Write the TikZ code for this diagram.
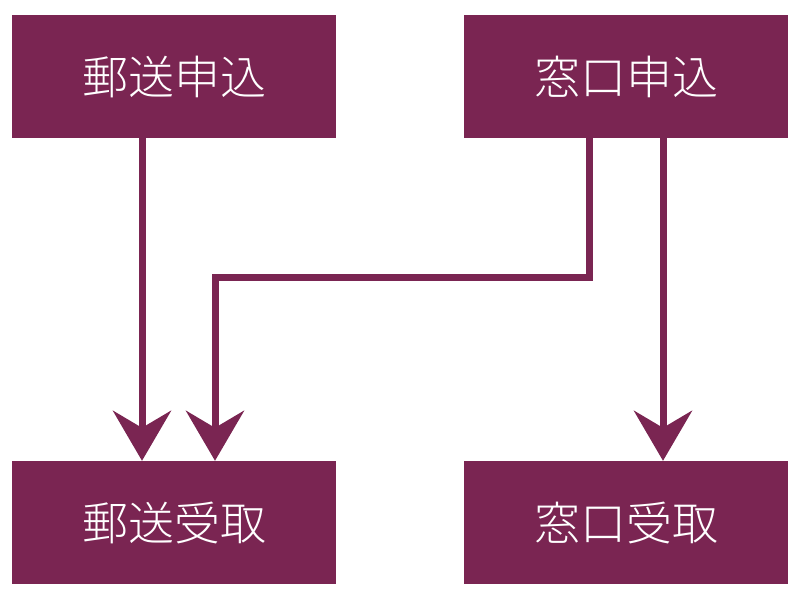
\documentclass[tikz,border=0pt]{standalone}
\usepackage{fontspec}
\newfontfamily\cjk{Noto Sans CJK JP Light}
\usetikzlibrary{arrows.meta}
\definecolor{plum}{HTML}{7A2552}
\begin{document}
\begin{tikzpicture}[x=1pt,y=-1pt,
  box/.style={fill=plum, draw=none, minimum width=324pt, minimum height=123pt, inner sep=0pt, text=white, font=\cjk\fontsize{46}{50}\selectfont},
  conn/.style={draw=plum, line width=7pt, -{Stealth[length=50pt,width=58pt,inset=17pt]}}]
\useasboundingbox (0,0) rectangle (800,600);
\node[box] (a) at (174,76.5) {郵送申込};
\node[box] (b) at (626,76.5) {窓口申込};
\node[box] (c) at (174,522.5) {郵送受取};
\node[box] (d) at (626,522.5) {窓口受取};
\draw[conn] (a.south -| 142,0) -- (c.north -| 142,0);
\draw[conn] (b.south -| 589,0) -- (589,277) -- (215,277) -- (c.north -| 215,0);
\draw[conn] (b.south -| 663,0) -- (d.north -| 663,0);
\end{tikzpicture}
\end{document}
